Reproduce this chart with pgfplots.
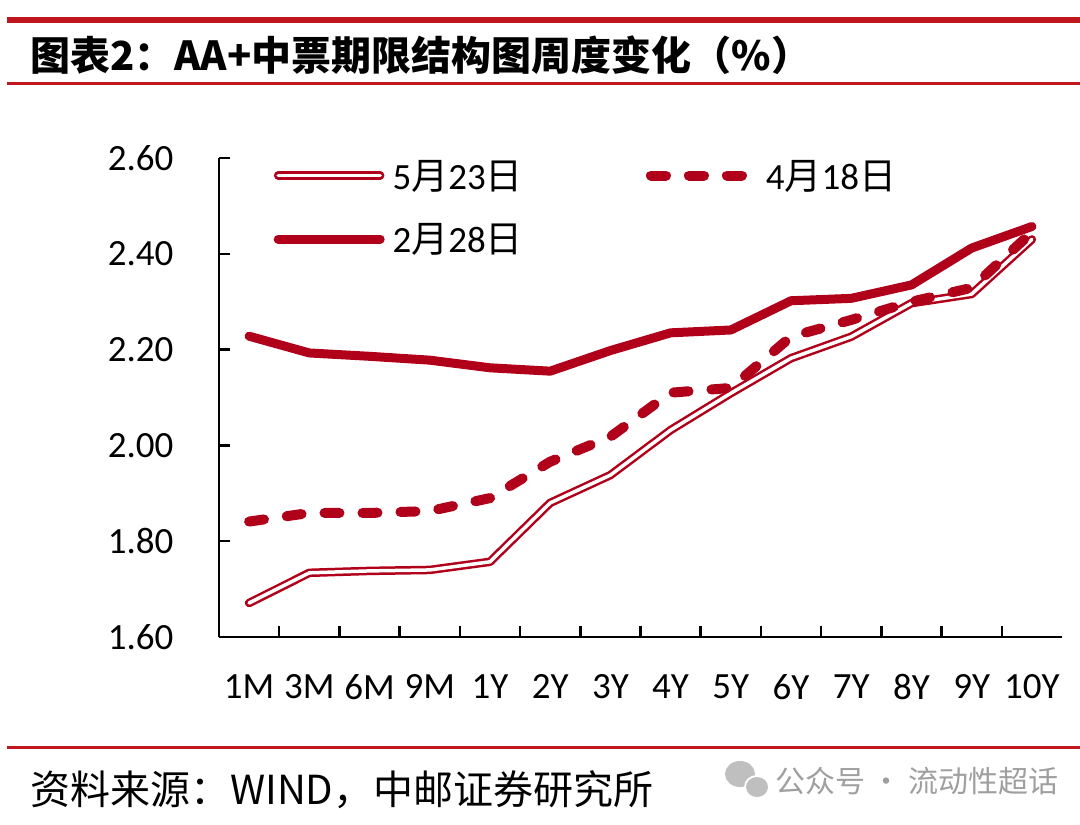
\documentclass[border=0pt]{standalone}
\usepackage{fontspec}
\usepackage{pgfplots}
\pgfplotsset{compat=1.18}
\setmainfont{Carlito}
\newfontfamily\cjk{Noto Sans CJK SC}
\definecolor{lred}{RGB}{176,0,26}
\definecolor{rulered}{RGB}{192,22,32}
\begin{document}
\begin{tikzpicture}
\useasboundingbox (0,0) rectangle (1080bp,-825bp);
\fill[rulered] (7bp,-17bp) rectangle (1080bp,-23bp);
\fill[rulered] (7bp,-82bp) rectangle (1080bp,-85bp);
\fill[rulered] (7bp,-746bp) rectangle (1080bp,-749bp);
\node[anchor=base west, inner sep=0pt] at (30bp,-70bp) {\fontsize{40bp}{40bp}\selectfont\cjk\bfseries 图表2：AA+中票期限结构图周度变化（\%）};
\node[anchor=base west, inner sep=0pt] at (30bp,-804bp) {\fontsize{40bp}{40bp}\selectfont\cjk 资料来源：WIND，中邮证券研究所};
\fill[gray!50] (740bp,-774bp) ellipse (15bp and 13bp);
\fill[white] (757bp,-787bp) ellipse (13bp and 12bp);
\fill[gray!50] (757bp,-787bp) ellipse (11bp and 10bp);
\node[anchor=base west, inner sep=0pt, text=gray!75] at (775bp,-792bp) {\fontsize{30bp}{30bp}\selectfont\cjk 公众号 · 流动性超话};
\begin{axis}[
  at={(219bp,-637bp)}, anchor=south west,
  scale only axis, width=843bp, height=479bp,
  xmin=-0.5, xmax=13.5, ymin=1.6, ymax=2.6,
  axis x line*=bottom, axis y line*=left,
  axis line style={line width=2.5bp, black},
  tick align=inside,
  major tick length=11bp, minor tick length=11bp,
  every tick/.style={line width=2.5bp, black},
  every major x tick/.append style={draw=none},
  xtick={0,...,13},
  minor x tick num=1,
  xticklabels={1M,3M,6M,9M,1Y,2Y,3Y,4Y,5Y,6Y,7Y,8Y,9Y,10Y},
  ytick={1.6,1.8,2.0,2.2,2.4,2.6},
  /pgf/number format/assume math mode=true,
  yticklabel style={/pgf/number format/fixed, /pgf/number format/fixed zerofill, /pgf/number format/precision=2, xshift=-42bp},
  xticklabel style={yshift=-34bp},
  ticklabel style={font=\fontsize{37bp}{37bp}\selectfont},
  legend columns=2,
  legend image code/.code={\draw[#1] (0bp,0bp) -- (102bp,0bp);},
  legend style={draw=none, fill=none, at={(0,1)}, anchor=north west, xshift=51.5bp, yshift=0bp,
    font=\fontsize{37bp}{37bp}\selectfont, row sep=33bp, nodes={inner sep=0pt},
    /tikz/every odd column/.append style={column sep=8bp},
    /tikz/every even column/.append style={column sep=123bp}},
  legend cell align=left,
  clip=false,
]
\addplot[lred, line width=2.5bp, double=white, double distance=3.5bp, line join=round, line cap=round] coordinates {
(0,1.671) (1,1.734) (2,1.738) (3,1.740) (4,1.757) (5,1.880) (6,1.938) (7,2.032) (8,2.109) (9,2.182) (10,2.227) (11,2.297) (12,2.316) (13,2.430)};
\addlegendentry{5{\cjk 月}23{\cjk 日}}
\addplot[lred, line width=10bp, dash pattern=on 15bp off 23bp, line cap=round, line join=round] coordinates {
(0,1.841) (1,1.859) (2,1.859) (3,1.863) (4,1.890) (5,1.966) (6,2.018) (7,2.110) (8,2.120) (9,2.227) (10,2.262) (11,2.300) (12,2.329) (13,2.445)};
\addlegendentry{4{\cjk 月}18{\cjk 日}}
\addplot[lred, line width=9bp, line cap=round, line join=round] coordinates {
(0,2.228) (1,2.193) (2,2.186) (3,2.178) (4,2.162) (5,2.155) (6,2.198) (7,2.235) (8,2.241) (9,2.302) (10,2.307) (11,2.335) (12,2.412) (13,2.457)};
\addlegendentry{2{\cjk 月}28{\cjk 日}}
\end{axis}
\end{tikzpicture}
\end{document}
